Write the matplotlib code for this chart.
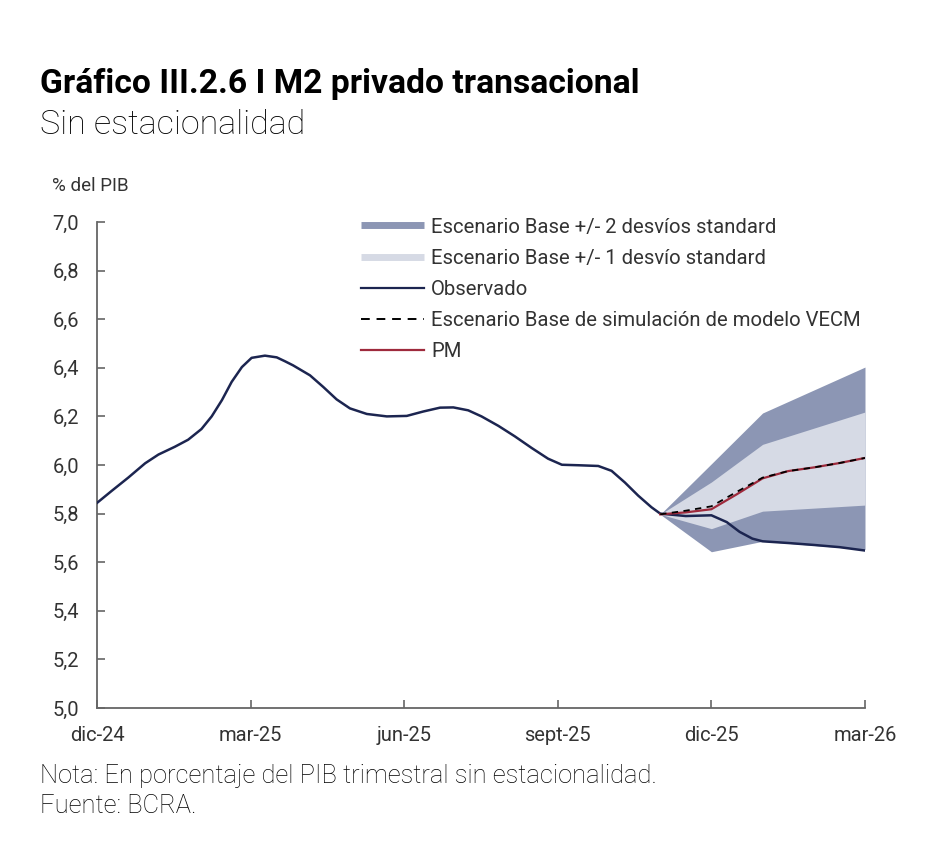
import matplotlib
matplotlib.use("Agg")
import matplotlib.pyplot as plt
from matplotlib.lines import Line2D

# ---- data ----
month_labels = ["dic-24", "mar-25", "jun-25", "sept-25", "dic-25", "mar-26"]
month_ticks = [0, 3, 6, 9, 12, 15]

obs_x = [0.0, 0.29, 0.61, 0.94, 1.2, 1.52, 1.78, 2.04, 2.24, 2.44, 2.63, 2.83, 3.02,
         3.28, 3.51, 3.67, 3.83, 4.16, 4.42, 4.68, 4.94, 5.27, 5.66, 6.05, 6.37,
         6.70, 6.96, 7.25, 7.51, 7.84, 8.16, 8.49, 8.81, 9.08, 9.4, 9.79, 10.05,
         10.31, 10.57, 10.83, 11.0, 11.5, 12.0, 12.3, 12.55, 12.8, 13.0, 13.5,
         14.0, 14.5, 15.0]
obs_y = [5.844, 5.894, 5.948, 6.007, 6.043, 6.075, 6.104, 6.148, 6.2, 6.267, 6.342,
         6.403, 6.441, 6.45, 6.443, 6.427, 6.41, 6.369, 6.321, 6.27, 6.233, 6.21,
         6.2, 6.202, 6.22, 6.236, 6.237, 6.225, 6.2, 6.161, 6.118, 6.07, 6.026,
         6.001, 5.999, 5.996, 5.976, 5.928, 5.874, 5.826, 5.8, 5.79, 5.793, 5.765,
         5.725, 5.697, 5.686, 5.679, 5.671, 5.662, 5.648]

band_x = [11, 12, 13, 15]
outer_hi = [5.797, 6.005, 6.214, 6.403]
inner_hi = [5.797, 5.93, 6.085, 6.218]
inner_lo = [5.797, 5.738, 5.810, 5.835]
outer_lo = [5.797, 5.643, 5.686, 5.652]

fc_x = [11, 11.5, 12, 12.5, 13, 13.5, 14, 14.5, 15]
pm = [5.797, 5.805, 5.818, 5.88, 5.945, 5.975, 5.99, 6.008, 6.029]
vecm = [5.797, 5.812, 5.83, 5.89, 5.948, 5.975, 5.99, 6.008, 6.029]

y_ticks = [5.0, 5.2, 5.4, 5.6, 5.8, 6.0, 6.2, 6.4, 6.6, 6.8, 7.0]

# ---- style ----
plt.rcParams['font.family'] = ['Roboto', 'DejaVu Sans']
c_outer = "#8c96b4"
c_inner = "#d6dae5"
c_obs = "#1c2550"
c_pm = "#9e2a3c"
c_axis = "#666666"
c_text = "#333333"

fig = plt.figure(figsize=(9.28, 8.6), dpi=100)
ax = fig.add_axes([97/928, 1-708/860, (865-97)/928, (708-222)/860])

ax.fill_between(band_x, outer_lo, outer_hi, color=c_outer, lw=0, zorder=1)
ax.fill_between(band_x, inner_lo, inner_hi, color=c_inner, lw=0, zorder=2)
ax.plot(obs_x, obs_y, color=c_obs, lw=1.8, zorder=4, solid_joinstyle="round")
ax.plot(fc_x, pm, color=c_pm, lw=1.6, zorder=5, solid_joinstyle="round")
ax.plot(fc_x, vecm, color="black", lw=1.3, ls=(0, (3.5, 3)), zorder=6)

ax.set_xlim(0, 15)
ax.set_ylim(5.0, 7.0)
ax.set_xticks(month_ticks)
ax.set_xticklabels(month_labels)
ax.set_yticks(y_ticks)
ax.set_yticklabels([f"{v:.1f}".replace(".", ",") for v in y_ticks])
for s in ["top", "right"]:
    ax.spines[s].set_visible(False)
for s in ["left", "bottom"]:
    ax.spines[s].set_color(c_axis)
    ax.spines[s].set_linewidth(1.3)
ax.tick_params(axis="both", direction="in", length=6, width=1.2, color=c_axis,
               labelsize=14.5, labelcolor=c_text)
ax.tick_params(axis="y", pad=13)
ax.tick_params(axis="x", pad=13)

handles = [
    Line2D([], [], color=c_outer, lw=5, solid_capstyle="butt"),
    Line2D([], [], color=c_inner, lw=5, solid_capstyle="butt"),
    Line2D([], [], color=c_obs, lw=1.6),
    Line2D([], [], color="black", lw=1.4, ls=(0, (4.5, 3.5))),
    Line2D([], [], color=c_pm, lw=1.6),
]
labels = [
    "Escenario Base +/- 2 desvíos standard",
    "Escenario Base +/- 1 desvío standard",
    "Observado",
    "Escenario Base de simulación de modelo VECM",
    "PM",
]
leg = ax.legend(handles, labels, loc="upper left",
                bbox_to_anchor=(361/928, 1-217.5/860), bbox_transform=fig.transFigure,
                frameon=False, fontsize=14.6, handlelength=3.1, handletextpad=0.35,
                labelspacing=0.6, borderpad=0, borderaxespad=0)
for t in leg.get_texts():
    t.set_color(c_text)

fig.text(40/928, 1-84/860, "Gráfico III.2.6 I M2 privado transacional",
         fontsize=24.2, fontweight="bold", color="black", va="center", ha="left")
fig.text(40/928, 1-125/860, "Sin estacionalidad",
         fontsize=24.5, fontweight="light", color="black", va="center", ha="left")
fig.text(52/928, 1-186/860, "% del PIB", fontsize=13.5, color=c_text,
         va="center", ha="left")
fig.text(40/928, 1-776/860,
         "Nota: En porcentaje del PIB trimestral sin estacionalidad.",
         fontsize=18.4, fontweight="light", color="black", va="center", ha="left")
fig.text(40/928, 1-806/860, "Fuente: BCRA.",
         fontsize=18.4, fontweight="light", color="black", va="center", ha="left")

fig.savefig("out.png", dpi=100, facecolor="white")
